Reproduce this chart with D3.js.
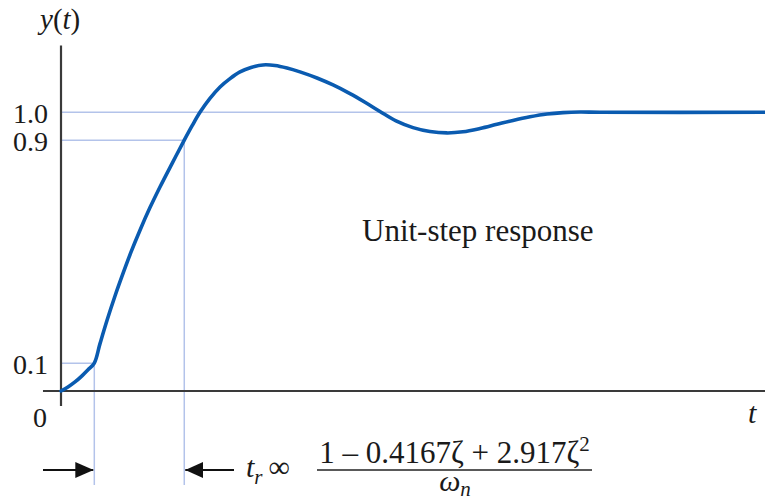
<!DOCTYPE html>
<html>
<head>
<meta charset="utf-8">
<script src="https://cdn.jsdelivr.net/npm/d3@7"></script>
<style>
  html, body { margin: 0; padding: 0; background: #fff; }
  svg { display: block; }
</style>
</head>
<body>
<svg id="chart" width="765" height="501"></svg>
<script>
// Unit-step response y(t) of an underdamped second-order system
const timeValues = [0, 0.099, 0.199, 0.298, 0.384, 0.473, 0.554, 0.653, 0.767, 0.881, 0.994, 1.122,
  1.264, 1.406, 1.577, 1.751, 1.861, 1.974, 2.116, 2.259, 2.401, 2.543, 2.699, 2.869, 3.04, 3.21,
  3.395, 3.636, 3.864, 4.105, 4.318, 4.531, 4.759, 5.0, 5.241, 5.483, 5.71, 5.952, 6.193, 6.42,
  6.662, 6.903, 7.131, 7.372, 7.656, 10];
const responseValues = [0, 0.0145, 0.0325, 0.0544, 0.076, 0.1, 0.17, 0.253, 0.341, 0.422, 0.498, 0.577,
  0.658, 0.732, 0.816, 0.9, 0.951, 1.0, 1.05, 1.091, 1.121, 1.145, 1.161, 1.17, 1.168, 1.159,
  1.145, 1.123, 1.098, 1.067, 1.036, 1.003, 0.969, 0.945, 0.931, 0.926, 0.93, 0.942, 0.957, 0.971,
  0.984, 0.994, 0.999, 1.001, 1.0, 1.0];

// Reference levels and their labels
const levelValues = [0.1, 0.9, 1.0];
const levelLabels = ["0.1", "0.9", "1.0"];
// Times at which the response reaches 10% and 90% of its final value
const riseStart = 0.473;
const riseEnd = 1.751;

const serif = '"Liberation Serif", "Times New Roman", Tinos, serif';
const ink = "#1a1a1a";

const svg = d3.select("#chart");
const x = d3.scaleLinear().domain([0, 10]).range([61, 765]);
const y = d3.scaleLinear().domain([0, 1]).range([391, 112.3]);

const guideColor = "#b3c3ea";
const axisColor = "#3a3a3a";

function label(px, py, size) {
  return svg.append("text")
    .attr("x", px).attr("y", py)
    .style("font-family", serif)
    .style("font-size", size + "px")
    .style("fill", ink);
}

// Guide lines: steady-state level across the plot, 10%/90% levels out to the rise-time markers
svg.append("line")
  .attr("x1", x(0)).attr("x2", x(10))
  .attr("y1", y(1)).attr("y2", y(1))
  .attr("stroke", guideColor).attr("stroke-width", 1.5);
svg.append("line")
  .attr("x1", x(0)).attr("x2", x(riseEnd))
  .attr("y1", y(0.9)).attr("y2", y(0.9))
  .attr("stroke", guideColor).attr("stroke-width", 1.5);
svg.append("line")
  .attr("x1", x(0)).attr("x2", x(riseStart))
  .attr("y1", y(0.1)).attr("y2", y(0.1))
  .attr("stroke", guideColor).attr("stroke-width", 1.5);
[[riseStart, 0.1], [riseEnd, 0.9]].forEach(([t, v]) => {
  svg.append("line")
    .attr("x1", x(t)).attr("x2", x(t))
    .attr("y1", y(v)).attr("y2", 485)
    .attr("stroke", guideColor).attr("stroke-width", 1.5);
});

// Axes
svg.append("line")
  .attr("x1", x(0)).attr("x2", x(0))
  .attr("y1", y(1.24)).attr("y2", y(-0.054))
  .attr("stroke", axisColor).attr("stroke-width", 2.2);
svg.append("line")
  .attr("x1", x(-0.256)).attr("x2", x(10))
  .attr("y1", y(0)).attr("y2", y(0))
  .attr("stroke", axisColor).attr("stroke-width", 2.2);

// Level tick labels
const yAxis = d3.axisLeft(y)
  .tickValues(levelValues)
  .tickSize(0)
  .tickPadding(0)
  .tickFormat((d, i) => levelLabels[i]);
const yAxisG = svg.append("g")
  .attr("transform", `translate(${x(0) - 13},0)`)
  .call(yAxis);
yAxisG.select(".domain").remove();
yAxisG.selectAll("text")
  .style("font-family", serif)
  .style("font-size", "28px")
  .style("fill", ink)
  .attr("dy", "0.36em");

label(40, 427, 28).attr("text-anchor", "middle").text("0");

// Axis titles
const yTitle = label(40, 29, 29);
yTitle.append("tspan").style("font-style", "italic").text("y");
yTitle.append("tspan").text("(");
yTitle.append("tspan").style("font-style", "italic").text("t");
yTitle.append("tspan").text(")");

label(748, 423, 30).style("font-style", "italic").text("t");

// Response curve
const points = timeValues.map((t, i) => [t, responseValues[i]]);
const line = d3.line()
  .x(d => x(d[0]))
  .y(d => y(d[1]))
  .curve(d3.curveCatmullRom.alpha(0.5));
svg.append("path")
  .datum(points)
  .attr("d", line)
  .attr("fill", "none")
  .attr("stroke", "#0a5bb0")
  .attr("stroke-width", 3.6)
  .attr("stroke-linecap", "round");

label(362, 241, 31).text("Unit-step response");

// Rise-time arrows
const arrowY = 470;
const defs = svg.append("defs");
defs.append("marker")
  .attr("id", "head")
  .attr("viewBox", "0 0 18 16")
  .attr("refX", 18).attr("refY", 8)
  .attr("markerWidth", 18).attr("markerHeight", 16)
  .attr("markerUnits", "userSpaceOnUse")
  .attr("orient", "auto")
  .append("path")
  .attr("d", "M0,0 L18,8 L0,16 Z")
  .attr("fill", "#111");
svg.append("line")
  .attr("x1", 43).attr("x2", x(riseStart) - 1)
  .attr("y1", arrowY).attr("y2", arrowY)
  .attr("stroke", "#111").attr("stroke-width", 2)
  .attr("marker-end", "url(#head)");
svg.append("line")
  .attr("x1", 234).attr("x2", x(riseEnd) + 1)
  .attr("y1", arrowY).attr("y2", arrowY)
  .attr("stroke", "#111").attr("stroke-width", 2)
  .attr("marker-end", "url(#head)");

// Rise-time approximation formula
const tr = label(246, 477, 30);
tr.append("tspan").style("font-style", "italic").text("t");
tr.append("tspan").style("font-style", "italic").style("font-size", "21px").attr("dy", 7).text("r");
tr.append("tspan").attr("dy", -7).attr("dx", 6).text("\u221E");

const num = label(454.5, 463, 31).attr("text-anchor", "middle");
num.append("tspan").text("1 \u2013 0.4167\u03B6 + 2.917\u03B6");
num.append("tspan").style("font-size", "21px").attr("dy", -12).text("2");

svg.append("line")
  .attr("x1", 317).attr("x2", 592)
  .attr("y1", 470).attr("y2", 470)
  .attr("stroke", "#222").attr("stroke-width", 1.3);

const den = label(455, 491, 30).attr("text-anchor", "middle");
den.append("tspan").style("font-style", "italic").text("\u03C9");
den.append("tspan").style("font-style", "italic").style("font-size", "21px").attr("dy", 5).text("n");
</script>
</body>
</html>
